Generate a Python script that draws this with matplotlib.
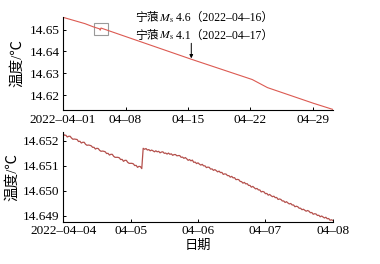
import matplotlib
matplotlib.use("Agg")
import matplotlib.pyplot as plt
import matplotlib.dates as mdates
import matplotlib.ticker as mticker
from matplotlib.patches import Rectangle
import pandas as pd

plt.rcParams["font.family"] = ["Liberation Serif", "Noto Sans CJK SC"]
plt.rcParams["mathtext.fontset"] = "stix"
plt.rcParams["font.size"] = 9.5
plt.rcParams["axes.unicode_minus"] = False

# top panel: whole month
top_times = ["2022-04-01 00:00", "2022-04-03 11:00", "2022-04-04 10:00",
             "2022-04-05 02:30", "2022-04-05 04:00", "2022-04-05 06:00",
             "2022-04-15 09:00", "2022-04-22 05:00", "2022-04-23 22:00",
             "2022-04-29 02:00", "2022-05-01 06:00"]
top_temp = [14.6556, 14.6527, 14.6512, 14.6503, 14.6497, 14.6507,
            14.6364, 14.6271, 14.6234, 14.6162, 14.6134]
top_ticks = ["2022-04-01", "2022-04-08", "2022-04-15", "2022-04-22", "2022-04-29"]
top_tick_labels = ["2022–04–01", "04–08", "04–15", "04–22", "04–29"]
top_yticks = [14.62, 14.63, 14.64, 14.65]

# zoom box and arrow
box_start, box_end = "2022-04-04 10:00", "2022-04-06 01:00"
box_low, box_high = 14.6477, 14.6531
arrow_time = "2022-04-15 09:00"
arrow_from, arrow_to = 14.6437, 14.6368
quake_place = "宁蒗"
quake_mag = ["4.6", "4.1"]
quake_dates = ["2022–04–16", "2022–04–17"]

# bottom panel: 2022-04-04 .. 04-08, half-hourly readings
bottom_temp = [
    14.65228, 14.65221, 14.65221, 14.65214, 14.65217, 14.65217, 14.65210, 14.65205, 14.65206, 14.65205,
    14.65204, 14.65196, 14.65197, 14.65190, 14.65193, 14.65193, 14.65185, 14.65181, 14.65182, 14.65181,
    14.65179, 14.65173, 14.65173, 14.65166, 14.65169, 14.65168, 14.65161, 14.65157, 14.65158, 14.65157,
    14.65155, 14.65148, 14.65149, 14.65142, 14.65145, 14.65145, 14.65137, 14.65133, 14.65133, 14.65133,
    14.65131, 14.65124, 14.65125, 14.65117, 14.65121, 14.65121, 14.65113, 14.65109, 14.65109, 14.65109,
    14.65107, 14.65100, 14.65101, 14.65093, 14.65097, 14.65096, 14.65088, 14.65169, 14.65165, 14.65168,
    14.65162, 14.65164, 14.65159, 14.65162, 14.65159, 14.65155, 14.65159, 14.65155, 14.65157, 14.65151,
    14.65154, 14.65155, 14.65149, 14.65150, 14.65146, 14.65150, 14.65145, 14.65147, 14.65141, 14.65144,
    14.65144, 14.65139, 14.65140, 14.65140, 14.65133, 14.65134, 14.65129, 14.65132, 14.65127, 14.65121,
    14.65124, 14.65119, 14.65122, 14.65113, 14.65114, 14.65108, 14.65111, 14.65106, 14.65102, 14.65105,
    14.65099, 14.65099, 14.65092, 14.65094, 14.65093, 14.65086, 14.65087, 14.65081, 14.65084, 14.65080,
    14.65075, 14.65078, 14.65072, 14.65073, 14.65065, 14.65067, 14.65066, 14.65060, 14.65060, 14.65054,
    14.65057, 14.65051, 14.65052, 14.65044, 14.65045, 14.65044, 14.65037, 14.65036, 14.65030, 14.65033,
    14.65027, 14.65028, 14.65021, 14.65021, 14.65014, 14.65017, 14.65012, 14.65007, 14.65009, 14.65003,
    14.65003, 14.64995, 14.64997, 14.64995, 14.64988, 14.64989, 14.64982, 14.64985, 14.64980, 14.64976,
    14.64978, 14.64972, 14.64973, 14.64965, 14.64967, 14.64965, 14.64959, 14.64959, 14.64953, 14.64956,
    14.64951, 14.64947, 14.64949, 14.64943, 14.64943, 14.64936, 14.64938, 14.64936, 14.64930, 14.64930,
    14.64924, 14.64926, 14.64922, 14.64918, 14.64921, 14.64918, 14.64912, 14.64913, 14.64906, 14.64908,
    14.64907, 14.64901, 14.64902, 14.64896, 14.64899, 14.64895, 14.64891, 14.64894, 14.64888, 14.64889,
    14.64882, 14.64884, 14.64881,
]
bottom_start = "2022-04-04 00:00"
bottom_ticks = ["2022-04-04", "2022-04-05", "2022-04-06", "2022-04-07", "2022-04-08"]
bottom_tick_labels = ["2022–04–04", "04–05", "04–06", "04–07", "04–08"]
bottom_yticks = [14.649, 14.650, 14.651, 14.652]


def style_axes(ax):
    for side in ("top", "right"):
        ax.spines[side].set_visible(False)
    for side in ("left", "bottom"):
        ax.spines[side].set_linewidth(0.8)
    ax.tick_params(direction="in", length=2.5, width=0.7, pad=2.5, labelsize=9.5)


def quake_label(ax, y, mag, date):
    # mathtext can't do CJK, so chain three pieces along one baseline
    a = ax.text(0.267, y, quake_place, transform=ax.transAxes, va="baseline", ha="left", fontsize=8.5)
    b = ax.annotate("$M_{\\mathrm{s}}$", xy=(1, y), xycoords=(a, ax.transAxes),
                    va="baseline", ha="left", fontsize=8.5)
    ax.annotate(" " + mag + "（" + date + "）", xy=(1, y), xycoords=(b, ax.transAxes),
                va="baseline", ha="left", fontsize=8.5)


fig = plt.figure(figsize=(3.8, 2.64), dpi=100)
ax1 = fig.add_axes([0.166, 0.583, 0.71, 0.353])
ax2 = fig.add_axes([0.166, 0.160, 0.71, 0.340])

# top panel
t1 = pd.to_datetime(top_times)
ax1.plot(t1, top_temp, color="#dc5a52", lw=0.8)
ax1.set_xlim(pd.Timestamp("2022-04-01"), pd.Timestamp("2022-05-01 06:00"))
ax1.set_ylim(14.6131, 14.6558)
ax1.set_xticks(pd.to_datetime(top_ticks))
ax1.set_xticklabels(top_tick_labels)
ax1.set_yticks(top_yticks)
ax1.yaxis.set_major_formatter(mticker.FormatStrFormatter("%.2f"))
ax1.set_ylabel("温度/℃", labelpad=4, fontsize=10.5)
style_axes(ax1)

x0 = mdates.date2num(pd.Timestamp(box_start))
x1 = mdates.date2num(pd.Timestamp(box_end))
ax1.add_patch(Rectangle((x0, box_low), x1 - x0, box_high - box_low,
                        fill=False, edgecolor="#9a9a9a", lw=0.8))
xa = pd.Timestamp(arrow_time)
ax1.annotate("", xy=(xa, arrow_to), xytext=(xa, arrow_from),
             arrowprops=dict(arrowstyle="-|>", color="black", lw=0.7,
                             mutation_scale=5, shrinkA=0, shrinkB=0))
quake_label(ax1, 0.955, quake_mag[0], quake_dates[0])
quake_label(ax1, 0.768, quake_mag[1], quake_dates[1])

# bottom panel
t2 = pd.date_range(bottom_start, periods=len(bottom_temp), freq="30min")
ax2.plot(t2, bottom_temp, color="#b4504c", lw=0.9)
ax2.set_xlim(pd.Timestamp("2022-04-04"), pd.Timestamp("2022-04-08"))
ax2.set_ylim(14.64876, 14.65234)
ax2.set_xticks(pd.to_datetime(bottom_ticks))
ax2.set_xticklabels(bottom_tick_labels)
ax2.set_yticks(bottom_yticks)
ax2.yaxis.set_major_formatter(mticker.FormatStrFormatter("%.3f"))
ax2.set_ylabel("温度/℃", labelpad=3, fontsize=10.5)
ax2.set_xlabel("日期", labelpad=2, fontsize=9.5)
style_axes(ax2)

fig.savefig("out.png", dpi=100)
